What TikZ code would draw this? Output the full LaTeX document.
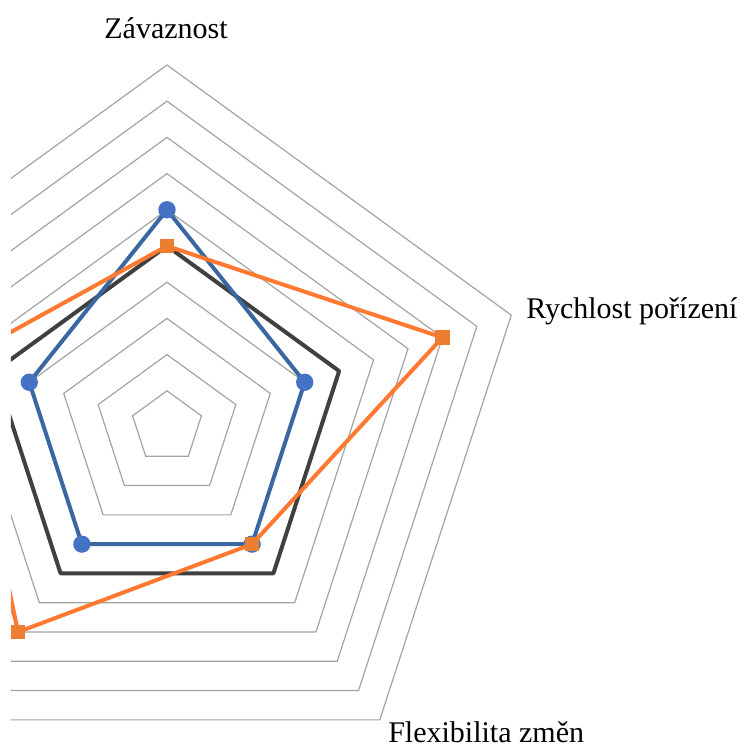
\documentclass[tikz,border=0pt]{standalone}
\usepackage{fontspec}
\setmainfont{Liberation Serif}
\usepackage{tikz}

\definecolor{gridgray}{HTML}{A3A3A3}
\definecolor{darkline}{HTML}{404040}
\definecolor{blueline}{HTML}{3A67A0}
\definecolor{bluemark}{HTML}{4472C4}
\definecolor{orangeline}{HTML}{FF7A30}
\definecolor{orangemark}{HTML}{ED7D31}

\tikzset{
    ring/.style={draw=gridgray, line width=0.9pt},
    serie/.style={line width=3pt, line join=round},
    dot/.style={circle, fill=bluemark, inner sep=0pt, minimum size=13pt},
    box/.style={rectangle, fill=orangemark, inner sep=0pt, minimum size=10.8pt},
    axislabel/.style={inner sep=0pt, font=\fontsize{22.5}{27}\selectfont}
}

\begin{document}
\begin{tikzpicture}[x=0.75pt, y=0.75pt]
    \useasboundingbox (-167,-322) rectangle (582,427);
    \begin{scope}
        \clip (-156,-322) rectangle (582,427);
        % rings
        \foreach \r in {1,...,10} {
            \draw[ring] (90:{36.2*\r}) -- (18:{36.2*\r}) -- (-54:{36.2*\r})
                -- (-126:{36.2*\r}) -- (162:{36.2*\r}) -- cycle;
        }
        % data points
        \foreach \v [count=\i] in {5,5,5,5,5}
            \coordinate (gry\i) at ({90-72*(\i-1)}:{36.2*\v});
        \foreach \v [count=\i] in {6,4,4,4,4}
            \coordinate (blu\i) at ({90-72*(\i-1)}:{36.2*\v});
        \foreach \v [count=\i] in {5,8,4,7,6}
            \coordinate (ora\i) at ({90-72*(\i-1)}:{36.2*\v});

        \draw[serie, darkline] (gry1) -- (gry2) -- (gry3) -- (gry4) -- (gry5) -- cycle;

        \draw[serie, blueline] (blu1) -- (blu2) -- (blu3) -- (blu4) -- (blu5) -- cycle;
        \foreach \i in {1,...,5}
            \node[dot] (bluM\i) at (blu\i) {};

        \draw[serie, orangeline] (ora1) -- (ora2) -- (ora3) -- (ora4) -- (ora5) -- cycle;
        \foreach \i in {1,...,5}
            \node[box] (oraM\i) at (ora\i) {};
    \end{scope}

    % labels
    \node[axislabel, anchor=base] (zav) at (-1,388) {Závaznost};
    \node[axislabel, anchor=base west] (rych) at (359,108) {Rychlost pořízení};
    \node[axislabel, anchor=base west] (flex) at (221,-315) {Flexibilita změn};
\end{tikzpicture}
\end{document}
